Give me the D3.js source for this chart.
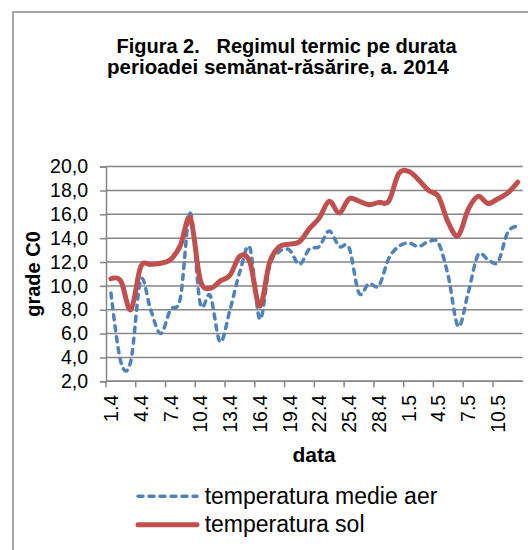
<!DOCTYPE html>
<html><head><meta charset="utf-8">
<script src="https://cdn.jsdelivr.net/npm/d3@7"></script>
<style>
html,body{margin:0;padding:0;background:#fff;}
text{font-family:Arial,"Liberation Sans",sans-serif;fill:#000;}
</style></head>
<body>
<svg id="c" width="528" height="550"></svg>
<script>
const dates = [];
for (let d = 1; d <= 30; d++) dates.push(d + ".4");
for (let d = 1; d <= 12; d++) dates.push(d + ".5");
const aer = [9.4,3.6,3.7,10.5,8.0,6.0,8.0,9.0,16.1,8.5,9.2,5.3,8.0,11.2,13.2,7.2,11.7,12.9,13.0,11.8,13.1,13.3,14.6,13.3,13.2,9.4,10.2,10.0,12.3,13.3,13.6,13.3,13.7,13.6,10.8,6.6,9.4,12.6,12.2,12.0,14.5,15.0];
const sol = [10.6,10.4,8.0,11.6,11.8,11.9,12.2,13.4,15.7,10.5,9.8,10.4,10.9,12.5,12.0,8.3,12.0,13.3,13.5,13.7,14.8,15.7,17.1,16.1,17.3,17.1,16.8,17.0,17.1,19.4,19.6,18.9,18.0,17.5,15.3,14.2,16.4,17.5,16.9,17.3,17.8,18.7];
const yTicks = [2,4,6,8,10,12,14,16,18,20];
const seriesNames = ["temperatura medie aer","temperatura sol"];
const titleLines = ["Figura 2.   Regimul termic pe durata","perioadei semănat-răsărire, a. 2014"];

const svg = d3.select("#c");
const grid = "#868686";
// chart border (left/top visible)
svg.append("path").attr("d","M13,560 L13,12 L540,12").attr("fill","none").attr("stroke","#8a8a8a").attr("stroke-width",1.5);

const x = d3.scaleBand().domain(d3.range(dates.length)).range([106, 522.7]).padding(0);
const y = d3.scaleLinear().domain([2,20]).range([381.3, 166.6]);

// gridlines
svg.append("g").selectAll("line").data(yTicks).join("line")
  .attr("x1",106).attr("x2",522.7).attr("y1",d=>y(d)).attr("y2",d=>y(d))
  .attr("stroke",grid).attr("stroke-width",1.5);

// y axis
const ya = svg.append("g").attr("transform","translate(106,0)")
  .call(d3.axisLeft(y).tickValues(yTicks).tickSize(6).tickPadding(12).tickFormat(d=>d.toFixed(1).replace(".",",")));
ya.select(".domain").attr("stroke",grid).attr("stroke-width",1.5);
ya.selectAll(".tick line").attr("stroke",grid).attr("stroke-width",1.5);
ya.selectAll("text").attr("font-size",19.5).attr("font-family","Arial, 'Liberation Sans', sans-serif").attr("fill","#000");

// x axis line + ticks
const xIdx = d3.range(0, dates.length, 3);
svg.append("line").attr("x1",106).attr("x2",522.7).attr("y1",y(2)).attr("y2",y(2)).attr("stroke",grid).attr("stroke-width",1.5);
svg.append("g").selectAll("line").data(xIdx).join("line")
  .attr("x1",d=>x(d)).attr("x2",d=>x(d)).attr("y1",y(2)).attr("y2",y(2)+6)
  .attr("stroke",grid).attr("stroke-width",1.5);
const xa = svg.append("g").attr("transform",`translate(0,${y(2)})`)
  .call(d3.axisBottom(x).tickValues(xIdx).tickSize(0).tickFormat(i=>dates[i]));
xa.select(".domain").remove();
xa.selectAll("text")
  .attr("font-size",19.5).attr("font-family","Arial, 'Liberation Sans', sans-serif").attr("fill","#000")
  .attr("text-anchor","end").attr("transform","rotate(-90)")
  .attr("x",-13.5).attr("y",0).attr("dy","0.36em");

// lines
const line = d3.line().x((d,i)=>x(i)+x.bandwidth()/2).y(d=>y(d)).curve(d3.curveCardinal.tension(0));
svg.append("path").datum(aer).attr("d",line).attr("fill","none")
  .attr("stroke","#4F81BD").attr("stroke-width",3.5).attr("stroke-dasharray","5,6").attr("stroke-linecap","round");
svg.append("path").datum(sol).attr("d",line).attr("fill","none")
  .attr("stroke","#C0504D").attr("stroke-width",5).attr("stroke-linecap","round").attr("stroke-linejoin","round");

// titles
const t = svg.append("g");
t.append("text").attr("x",286.5).attr("y",52.5).attr("text-anchor","middle").attr("font-size",20).attr("font-weight","bold").style("white-space","pre").text(titleLines[0]);
t.append("text").attr("x",278).attr("y",74).attr("text-anchor","middle").attr("font-size",20.5).attr("font-weight","bold").style("white-space","pre").text(titleLines[1]);
svg.append("text").attr("transform","translate(39.5,274) rotate(-90)").attr("text-anchor","middle").attr("font-size",20).attr("font-weight","bold").text("grade C0");
svg.append("text").attr("x",314).attr("y",462).attr("text-anchor","middle").attr("font-size",21).attr("font-weight","bold").text("data");

// legend
const lg = svg.append("g");
lg.append("line").attr("x1",138).attr("x2",197).attr("y1",496.3).attr("y2",496.3)
  .attr("stroke","#4F81BD").attr("stroke-width",3.5).attr("stroke-dasharray","5,6").attr("stroke-linecap","round");
lg.append("line").attr("x1",138).attr("x2",197).attr("y1",524.7).attr("y2",524.7)
  .attr("stroke","#C0504D").attr("stroke-width",5).attr("stroke-linecap","round");
lg.append("text").attr("x",204.7).attr("y",504).attr("font-size",23).text(seriesNames[0]);
lg.append("text").attr("x",204.7).attr("y",531.5).attr("font-size",23).text(seriesNames[1]);
</script>
</body></html>
